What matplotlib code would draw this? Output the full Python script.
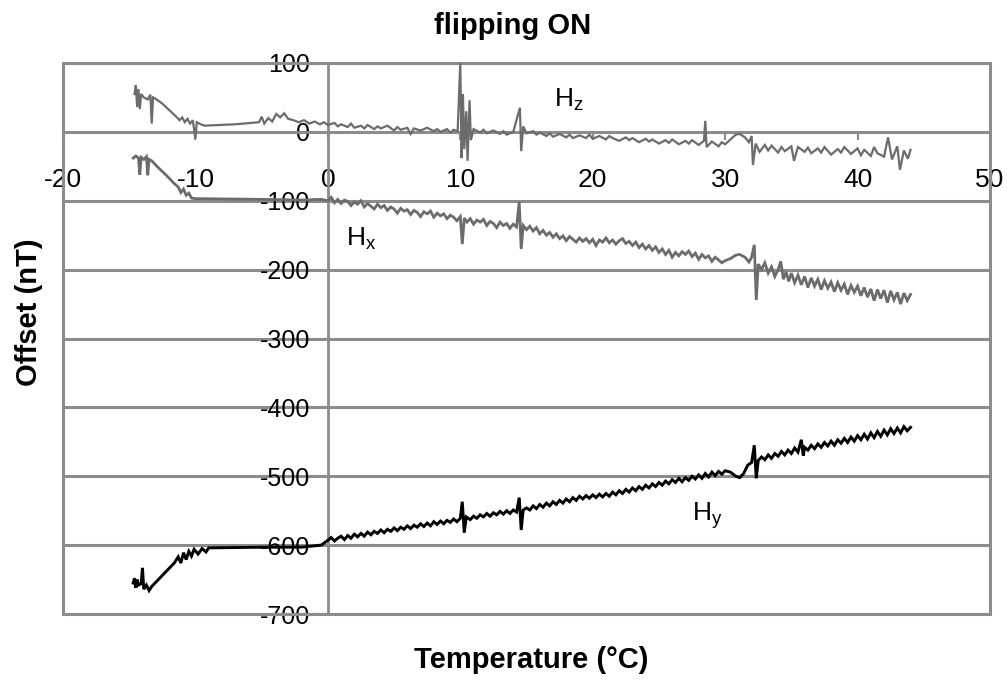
import matplotlib
matplotlib.use("Agg")
import matplotlib.pyplot as plt
from matplotlib.patches import Rectangle

plt.rcParams['font.family'] = ['Liberation Sans', 'DejaVu Sans']
plt.rcParams['mathtext.default'] = 'regular'
plt.rcParams['axes.unicode_minus'] = False

# ---------------- data (temperature °C, offset nT) ----------------
HZ = [(-14.6, 55), (-14.5, 68), (-14.4, 36), (-14.3, 62), (-14.2, 33), (-14.1, 55), (-13.9, 50),
      (-13.6, 47), (-13.4, 54), (-13.3, 12), (-13.2, 50), (-13.0, 48), (-12.5, 41), (-12.0, 32),
      (-11.5, 23), (-11.2, 17), (-11.0, 21), (-10.8, 14), (-10.6, 19), (-10.4, 12), (-10.2, 17),
      (-10.0, -10), (-9.9, 14), (-9.6, 11), (-9.3, 9), (-7.0, 11), (-5.2, 14), (-5.0, 22),
      (-4.8, 12), (-4.5, 20), (-4.2, 15), (-3.9, 26), (-3.6, 21), (-3.3, 27), (-3.0, 19),
      (-2.6, 17), (-2.2, 14), (-1.8, 17), (-1.4, 12), (-1.0, 15), (-0.6, 11), (-0.3, 14),
      (0.0, 10), (0.5, 13), (0.75, 8), (1.0, 11), (1.5, 7), (1.75, 12), (2.0, 6), (2.5, 9),
      (2.75, 5), (3.0, 10), (3.5, 4), (3.75, 8), (4.0, 5), (4.5, 9), (5.0, 2), (5.25, 7),
      (5.5, 3), (6.0, 6), (6.25, -3), (6.5, 5), (7.0, 2), (7.5, 6), (8.0, 1), (8.25, 4),
      (8.5, 0), (9.0, 4), (9.25, -1), (9.5, 3), (9.8, 1),
      (10.0, 100), (10.1, -38), (10.2, 55), (10.3, -25), (10.45, 30), (10.55, -42), (10.7, 46),
      (10.8, -12), (11.0, 4), (11.5, -1), (11.75, 3), (12.0, -2), (12.5, 2), (13.0, -3),
      (13.25, 1), (13.5, -4), (14.0, 0), (14.5, 35), (14.6, -28), (14.75, 8), (15.0, -2),
      (15.5, 1), (15.75, -4), (16.0, -1), (16.5, -6), (16.75, -2), (17.0, -7), (17.5, -3),
      (18.0, -8), (18.25, -4), (18.5, -9), (19.0, -5), (19.5, -9), (19.75, -4), (20.0, -10),
      (20.5, -6), (21.0, -11), (21.25, -6), (21.5, -9), (22.0, -13), (22.5, -8), (22.75, -12),
      (23.0, -9), (23.5, -15), (24.0, -10), (24.25, -14), (24.5, -11), (25.0, -17), (25.5, -12),
      (25.75, -16), (26.0, -11), (26.5, -18), (27.0, -13), (27.25, -17), (27.5, -12), (28.0, -19),
      (28.4, -13), (28.5, 16), (28.6, -22), (29.0, -14), (29.5, -21), (29.75, -15), (30.0, -18),
      (30.4, -11), (30.8, -4), (31.1, -3), (31.5, -8), (31.8, -15),
      (32.0, -6), (32.1, -48), (32.3, -17), (32.6, -29), (33.0, -19), (33.25, -27), (33.5, -20),
      (34.0, -30), (34.25, -22), (34.5, -28), (35.0, -21), (35.2, -42), (35.5, -22), (36.0, -29),
      (36.25, -23), (36.5, -31), (37.0, -24), (37.25, -30), (37.5, -22), (38.0, -33), (38.5, -25),
      (38.75, -30), (39.0, -22), (39.5, -32), (40.0, -24), (40.25, -34), (40.5, -26), (41.0, -35),
      (41.25, -22), (41.5, -31), (42.0, -36), (42.3, -8), (42.6, -40), (43.0, -21), (43.2, -55),
      (43.5, -27), (43.8, -39), (44.0, -26)]

HX = [(-14.7, -38), (-14.5, -35), (-14.3, -38), (-14.2, -62), (-14.1, -37), (-13.9, -40),
      (-13.7, -36), (-13.6, -63), (-13.5, -40), (-13.3, -42), (-12.8, -52), (-12.2, -63),
      (-11.6, -75), (-11.3, -80), (-11.1, -88), (-10.9, -83), (-10.7, -92), (-10.5, -89),
      (-10.3, -96), (-10.0, -97), (-9.5, -97), (-5.0, -98), (-2.0, -99), (-0.5, -98),
      (0.0, -100), (0.25, -95), (0.5, -103), (0.75, -98), (1.0, -104), (1.25, -99), (1.5, -101),
      (1.75, -107), (2.0, -102), (2.25, -105), (2.5, -100), (2.75, -109), (3.0, -104),
      (3.25, -108), (3.5, -112), (3.75, -105), (4.0, -110), (4.25, -107), (4.5, -114),
      (4.75, -109), (5.0, -112), (5.25, -118), (5.5, -111), (5.75, -115), (6.0, -113),
      (6.25, -120), (6.5, -114), (6.75, -117), (7.0, -123), (7.25, -116), (7.5, -119),
      (7.75, -115), (8.0, -124), (8.25, -118), (8.5, -122), (8.75, -119), (9.0, -126),
      (9.25, -121), (9.5, -124), (9.75, -129), (10.0, -123), (10.15, -163), (10.3, -125),
      (10.5, -131), (10.75, -126), (11.0, -134), (11.25, -128), (11.5, -131), (11.75, -127),
      (12.0, -136), (12.25, -130), (12.5, -133), (12.75, -139), (13.0, -131), (13.25, -136),
      (13.5, -133), (13.75, -140), (14.0, -134), (14.25, -138), (14.45, -102), (14.6, -170),
      (14.75, -136), (15.0, -142), (15.25, -137), (15.5, -144), (15.75, -139), (16.0, -148),
      (16.25, -143), (16.5, -150), (16.75, -146), (17.0, -153), (17.25, -148), (17.5, -155),
      (17.75, -151), (18.0, -158), (18.25, -152), (18.5, -156), (18.75, -160), (19.0, -154),
      (19.25, -159), (19.5, -155), (19.75, -161), (20.0, -156), (20.25, -165), (20.5, -157),
      (20.75, -160), (21.0, -154), (21.25, -161), (21.5, -157), (21.75, -163), (22.0, -158),
      (22.25, -155), (22.5, -162), (22.75, -159), (23.0, -165), (23.25, -160), (23.5, -168),
      (23.75, -163), (24.0, -170), (24.25, -165), (24.5, -172), (24.75, -167), (25.0, -175),
      (25.25, -170), (25.5, -178), (25.75, -172), (26.0, -182), (26.25, -175), (26.5, -180),
      (26.75, -174), (27.0, -178), (27.25, -173), (27.5, -181), (27.75, -176), (28.0, -185),
      (28.25, -178), (28.5, -183), (28.75, -180), (29.0, -188), (29.25, -182), (29.5, -186),
      (29.75, -190), (30.0, -187), (30.4, -184), (30.8, -179), (31.1, -178), (31.5, -182),
      (31.8, -189), (32.0, -182), (32.2, -164), (32.35, -244), (32.5, -192), (32.75, -200),
      (33.0, -190), (33.25, -205), (33.5, -196), (33.75, -210), (34.0, -200), (34.2, -188),
      (34.4, -214), (34.6, -203), (34.8, -217), (35.0, -205), (35.25, -219), (35.5, -208),
      (35.75, -222), (36.0, -210), (36.25, -226), (36.5, -212), (36.75, -224), (37.0, -214),
      (37.25, -229), (37.5, -216), (37.75, -227), (38.0, -218), (38.25, -232), (38.5, -219),
      (38.75, -230), (39.0, -221), (39.25, -236), (39.5, -223), (39.75, -233), (40.0, -224),
      (40.25, -238), (40.5, -226), (40.75, -240), (41.0, -228), (41.25, -245), (41.5, -229),
      (41.75, -242), (42.0, -230), (42.25, -248), (42.5, -231), (42.75, -244), (43.0, -233),
      (43.25, -250), (43.5, -234), (43.75, -245), (44.0, -236)]

HY = [(-14.7, -655), (-14.6, -648), (-14.5, -662), (-14.4, -650), (-14.3, -658), (-14.1, -656),
      (-14.0, -633), (-13.9, -664), (-13.7, -658), (-13.5, -666), (-13.3, -660), (-12.8, -650),
      (-12.2, -638), (-11.6, -626), (-11.3, -617), (-11.1, -626), (-10.9, -611), (-10.7, -621),
      (-10.5, -609), (-10.3, -616), (-10.1, -606), (-9.8, -613), (-9.5, -605), (-9.2, -610),
      (-9.0, -604), (-5.0, -603), (-2.0, -603), (-0.5, -600),
      (0.0, -593), (0.25, -589), (0.5, -594), (0.75, -590), (1.0, -587), (1.25, -592),
      (1.5, -586), (1.75, -590), (2.0, -584), (2.25, -588), (2.5, -583), (2.75, -587),
      (3.0, -581), (3.25, -585), (3.5, -580), (3.75, -583), (4.0, -578), (4.25, -582),
      (4.5, -577), (4.75, -580), (5.0, -575), (5.25, -579), (5.5, -574), (5.75, -577),
      (6.0, -572), (6.25, -576), (6.5, -571), (6.75, -574), (7.0, -569), (7.25, -573),
      (7.5, -568), (7.75, -572), (8.0, -566), (8.25, -570), (8.5, -565), (8.75, -569),
      (9.0, -564), (9.25, -567), (9.5, -562), (9.75, -566), (10.0, -561), (10.15, -537),
      (10.3, -582), (10.45, -559), (10.75, -563), (11.0, -558), (11.25, -561), (11.5, -556),
      (11.75, -559), (12.0, -554), (12.25, -558), (12.5, -553), (12.75, -556), (13.0, -551),
      (13.25, -555), (13.5, -550), (13.75, -554), (14.0, -549), (14.25, -552), (14.45, -531),
      (14.6, -578), (14.75, -549), (15.0, -546), (15.25, -549), (15.5, -543), (15.75, -547),
      (16.0, -541), (16.25, -545), (16.5, -539), (16.75, -543), (17.0, -537), (17.25, -541),
      (17.5, -535), (17.75, -539), (18.0, -533), (18.25, -537), (18.5, -531), (18.75, -535),
      (19.0, -529), (19.25, -533), (19.5, -528), (19.75, -532), (20.0, -527), (20.25, -531),
      (20.5, -526), (20.75, -530), (21.0, -525), (21.25, -529), (21.5, -523), (21.75, -527),
      (22.0, -521), (22.25, -525), (22.5, -519), (22.75, -523), (23.0, -517), (23.25, -521),
      (23.5, -515), (23.75, -519), (24.0, -513), (24.25, -517), (24.5, -511), (24.75, -515),
      (25.0, -509), (25.25, -513), (25.5, -507), (25.75, -511), (26.0, -505), (26.25, -509),
      (26.5, -503), (26.75, -508), (27.0, -502), (27.25, -506), (27.5, -500), (27.75, -504),
      (28.0, -498), (28.25, -503), (28.5, -496), (28.75, -501), (29.0, -494), (29.25, -499),
      (29.5, -493), (29.75, -497), (30.0, -492), (30.4, -494), (30.8, -500), (31.1, -502),
      (31.4, -496), (31.7, -484), (32.0, -480), (32.2, -455), (32.35, -503), (32.5, -477),
      (32.75, -472), (33.0, -476), (33.25, -469), (33.5, -474), (33.75, -467), (34.0, -471),
      (34.25, -464), (34.5, -469), (34.75, -462), (35.0, -467), (35.25, -459), (35.5, -465),
      (35.75, -447), (35.9, -470), (36.0, -458), (36.25, -462), (36.5, -455), (36.75, -460),
      (37.0, -453), (37.25, -458), (37.5, -451), (37.75, -456), (38.0, -449), (38.25, -455),
      (38.5, -447), (38.75, -452), (39.0, -445), (39.25, -451), (39.5, -443), (39.75, -449),
      (40.0, -441), (40.25, -447), (40.5, -439), (40.75, -446), (41.0, -437), (41.25, -444),
      (41.5, -435), (41.75, -442), (42.0, -433), (42.25, -440), (42.5, -431), (42.75, -438),
      (43.0, -430), (43.25, -437), (43.5, -428), (43.75, -434), (44.0, -429)]

X_TICKS = [-20, -10, 0, 10, 20, 30, 40, 50]
Y_TICKS = [100, 0, -100, -200, -300, -400, -500, -600, -700]

GRID = '#8c8c8c'
GRAY_LINE = '#6c6c6c'

# ---------------- figure ----------------
fig = plt.figure(figsize=(10.07, 6.83), dpi=100)
ax = fig.add_axes([63 / 1007, 1 - 614 / 683, (990 - 63) / 1007, (614 - 63) / 683])
ax.set_xlim(-20, 50)
ax.set_ylim(-700, 100)

ax.set_xticks(X_TICKS)
ax.set_yticks(Y_TICKS)
ax.yaxis.grid(True, color=GRID, lw=2.2)
ax.xaxis.grid(False)

for s in ['top', 'right', 'left', 'bottom']:
    ax.spines[s].set_color(GRID)
    ax.spines[s].set_linewidth(2)
ax.spines['left'].set_position(('data', 0))
ax.spines['bottom'].set_position(('data', 0))
ax.add_patch(Rectangle((0, 0), 1, 1, transform=ax.transAxes, fill=False,
                       ec=GRID, lw=2.2, clip_on=False, zorder=2.5))

ax.tick_params(axis='x', direction='out', length=6, width=1.5, color=GRID,
               pad=20, labelsize=19)
ax.tick_params(axis='y', direction='out', length=11, width=1.5, color=GRID,
               pad=2, labelsize=18)

for series, col, lw in [(HZ, GRAY_LINE, 1.6), (HX, GRAY_LINE, 2.0), (HY, 'black', 2.1)]:
    t, v = zip(*series)
    ax.plot(t, v, color=col, lw=lw, zorder=3, solid_joinstyle='miter')

ax.text(17.1, 27, r'$H_z$', fontsize=19, ha='left', va='bottom')
ax.text(1.4, -174, r'$H_x$', fontsize=19, ha='left', va='bottom')
ax.text(27.5, -580, r'$H_y$', fontsize=19, ha='left', va='bottom')

fig.text(513 / 1007, 1 - 26 / 683, 'flipping ON', fontsize=21, fontweight='bold',
         ha='center', va='center')
fig.text(531 / 1007, 1 - 660 / 683, 'Temperature (°C)', fontsize=21, fontweight='bold',
         ha='center', va='center')
fig.text(29 / 1007, 1 - 312 / 683, 'Offset (nT)', fontsize=21, fontweight='bold',
         ha='center', va='center', rotation=90)

fig.savefig('out.png', dpi=100)
